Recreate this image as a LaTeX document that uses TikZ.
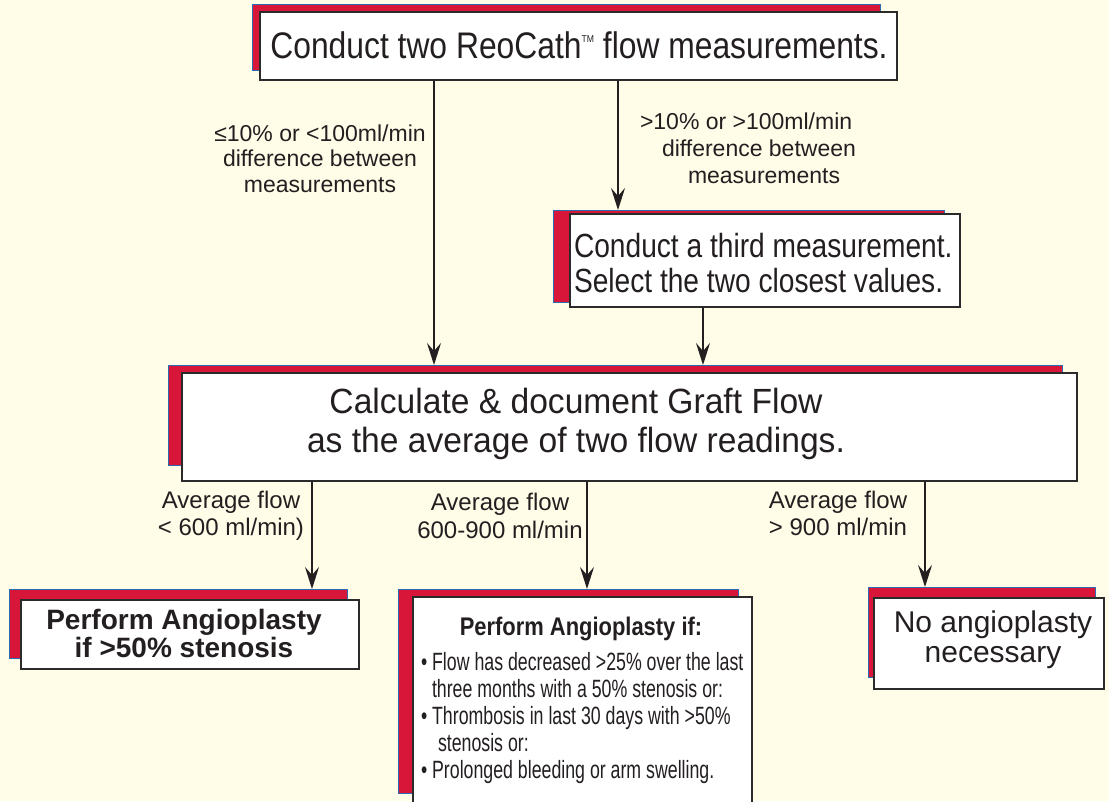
\documentclass[tikz,border=0pt]{standalone}
\usepackage{fontspec}
\setmainfont{Liberation Sans}
\newfontfamily\fa[FakeStretch=0.86]{Liberation Sans}
\newfontfamily\fb[FakeStretch=0.84]{Liberation Sans}
\newfontfamily\fc[FakeStretch=0.71]{Liberation Sans}
\newfontfamily\fd[FakeStretch=0.96]{Liberation Sans}
\usetikzlibrary{arrows.meta}
\definecolor{bg}{HTML}{FFFCE8}
\definecolor{shred}{HTML}{D7163A}
\definecolor{shblue}{HTML}{2D6BB0}
\definecolor{bord}{HTML}{2B2B2B}
\definecolor{ink}{HTML}{231F20}
\begin{document}
\begin{tikzpicture}[x=1pt,y=-1pt,
  shadowbox/.style={draw=shblue,fill=shred,line width=1pt,inner sep=0pt,outer sep=0pt,anchor=north west},
  card/.style={draw=bord,fill=white,line width=1.6pt,inner sep=0pt,outer sep=0pt,anchor=north west},
  arr/.style={draw=ink,line width=1.5pt,-{Stealth[length=22pt,width=14pt,inset=8pt]}},
  txt/.style={text=ink,inner sep=0pt,outer sep=0pt,anchor=base}]
\fill[bg] (0,0) rectangle (1109,801);
\useasboundingbox (0,0) rectangle (1109,801);

% boxes
\node[shadowbox,minimum width=628pt,minimum height=66pt] (topS) at (252,4) {};
\node[card,minimum width=637pt,minimum height=68pt] (top) at (260,12) {};
\node[shadowbox,minimum width=391pt,minimum height=92pt] (thirdS) at (553,210) {};
\node[card,minimum width=390pt,minimum height=93pt] (third) at (570,214) {};
\node[shadowbox,minimum width=894pt,minimum height=100pt] (calcS) at (168,365) {};
\node[card,minimum width=895pt,minimum height=108pt] (calc) at (182,373) {};
\node[shadowbox,minimum width=338pt,minimum height=69pt] (boneS) at (9,589) {};
\node[card,minimum width=338pt,minimum height=69pt] (bone) at (21,600) {};
\node[shadowbox,minimum width=340pt,minimum height=204pt] (btwoS) at (398,589) {};
\node[card,minimum width=339pt,minimum height=220pt] (btwo) at (413,597) {};
\node[shadowbox,minimum width=227pt,minimum height=90pt] (bthreeS) at (868,587) {};
\node[card,minimum width=230pt,minimum height=91pt] (bthree) at (874,598) {};

% texts in boxes
\node[txt,font=\fa\fontsize{37}{40}\selectfont] (ttop) at (579,58)
  {Conduct two ReoCath\raisebox{16pt}{\fontsize{10}{10}\selectfont TM} flow measurements.};
\node[txt,anchor=base west,align=left,font=\fb\fontsize{33.5}{35}\selectfont] (tthird) at (574,292)
  {Conduct a third measurement.\\Select the two closest values.};
\node[txt,align=center,font=\fd\fontsize{35}{39}\selectfont] (tcalc) at (576,452)
  {Calculate \& document Graft Flow\\as the average of two flow readings.};
\node[txt,align=center,font=\bfseries\fontsize{28}{26}\selectfont] (tone) at (184,657)
  {Perform Angioplasty\\if >50\% stenosis};
\node[txt,font=\fa\bfseries\fontsize{25.5}{28}\selectfont] (ttwo) at (581,635) {Perform Angioplasty if:};
\node[txt,anchor=base west,align=left,font=\fc\fontsize{25}{26.8}\selectfont] (tlist) at (421,778)
  {•\ Flow has decreased >25\% over the last\\
   \hspace*{11pt}three months with a 50\% stenosis or:\\
   •\ Thrombosis in last 30 days with >50\%\\
   \hspace*{17pt}stenosis or:\\
   •\ Prolonged bleeding or arm swelling.};
\node[txt,align=center,font=\fontsize{30}{29.5}\selectfont] (tthree) at (993,662)
  {No angioplasty\\necessary};

% labels
\node[txt,align=center,font=\fontsize{23}{25.5}\selectfont] (lone) at (320,192)
  {≤10\% or <100ml/min\\difference between\\measurements};
\node[txt,anchor=base west,align=left,font=\fontsize{23}{27}\selectfont] (ltwo) at (640,183)
  {>10\% or >100ml/min\\\hspace*{22pt}difference between\\\hspace*{48pt}measurements};
\node[txt,align=center,font=\fontsize{24}{27}\selectfont] (lthree) at (231,535)
  {Average flow\\< 600 ml/min)};
\node[txt,align=center,font=\fontsize{24}{28}\selectfont] (lfour) at (500,538)
  {Average flow\\600-900 ml/min};
\node[txt,align=center,font=\fontsize{24}{27}\selectfont] (lfive) at (838,535)
  {Average flow\\> 900 ml/min};

% connectors
\coordinate (xa) at (434,0);
\coordinate (xb) at (618,0);
\coordinate (xc) at (703,0);
\coordinate (xd) at (312,0);
\coordinate (xe) at (587,0);
\coordinate (xf) at (925,0);
\draw[arr] (top.south -| xa) -- (calcS.north -| xa);
\draw[arr] (top.south -| xb) -- (thirdS.north -| xb);
\draw[arr] (third.south -| xc) -- (calcS.north -| xc);
\draw[arr] (calc.south -| xd) -- (boneS.north -| xd);
\draw[arr] (calc.south -| xe) -- (btwoS.north -| xe);
\draw[arr] (calc.south -| xf) -- (bthreeS.north -| xf);
\end{tikzpicture}
\end{document}
